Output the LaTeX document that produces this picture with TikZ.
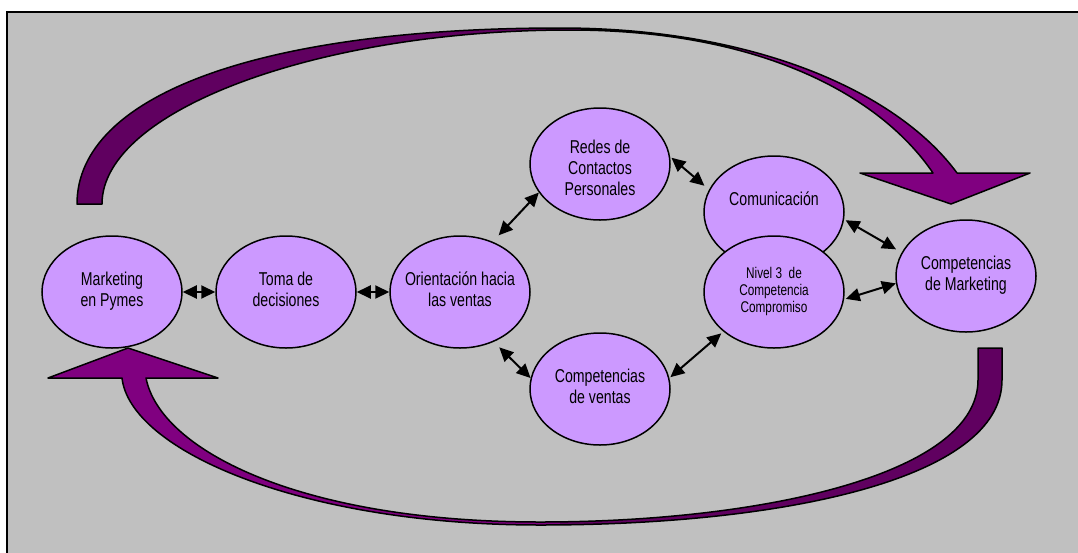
\documentclass[tikz,border=0pt]{standalone}
\usepackage{fontspec}
\newfontfamily\arialn{Liberation Sans}[FakeStretch=0.76]
\usetikzlibrary{arrows.meta,shapes.geometric}
\definecolor{bg}{HTML}{C0C0C0}
\definecolor{bubfill}{HTML}{CC99FF}
\definecolor{purp}{HTML}{800080}
\definecolor{dpurp}{HTML}{600060}
\newcommand\bubtext[1]{\makebox[0pt]{\begin{tabular}{@{}c@{}}#1\end{tabular}}}
\newcommand\toparrow{(77,204) .. controls (77,95) and (260,28) .. (560,28) .. controls (760,28) and (900,95) .. (957,173) -- (1030,173) -- (951,204) -- (860,173) -- (933,173) .. controls (880,95) and (760,30) .. (570,30) .. controls (320,30) and (102,110) .. (102,204) -- cycle}
\newcommand\botarrow{(48,378) -- (128,348) -- (218,378) -- (146,378) .. controls (160,450) and (300,522) .. (540,522) .. controls (760,522) and (978,475) .. (978,380) -- (978,348) -- (1002,348) -- (1002,380) .. controls (1002,480) and (780,525) .. (540,525) .. controls (300,525) and (130,450) .. (122,378) -- cycle}
\begin{document}
\begin{tikzpicture}[x=1pt,y=-1pt,
  bub/.style={ellipse, draw=black, line width=1.5pt, fill=bubfill, minimum width=140pt, minimum height=112pt, inner sep=0pt, font=\arialn\fontsize{18.6}{20.7}\selectfont},
  smalltext/.style={font=\arialn\fontsize{15.5}{17}\selectfont},
  dbl/.style={{Triangle[length=14pt,width=13pt]}-{Triangle[length=14pt,width=13pt]}, line width=2pt},
  ribbon/.style={draw=black, line width=1.5pt, line join=round}]
\useasboundingbox (0,0) rectangle (1078,552);
\clip (0,0) rectangle (1078,552);
\fill[bg] (7,12) rectangle (1090,560);
\draw[line width=2pt] (7,570) -- (7,12) -- (1090,12);
% top curved arrow
\fill[purp] \toparrow;
\begin{scope}
  \clip (0,0) rectangle (560,300);
  \fill[dpurp] \toparrow;
\end{scope}
\draw[ribbon] \toparrow;
% bottom curved arrow
\fill[purp] \botarrow;
\begin{scope}
  \clip (560,300) rectangle (1078,552);
  \fill[dpurp] \botarrow;
\end{scope}
\draw[ribbon] \botarrow;
% nodes
\node[bub] (mkt) at (112,292) {\bubtext{Marketing\\en Pymes}};
\node[bub] (toma) at (286,292) {\bubtext{Toma de\\decisiones}};
\node[bub] (ori) at (460,292) {\bubtext{Orientación hacia\\las ventas}};
\node[bub] (red) at (600,164) {\makebox[0pt]{\raisebox{-31pt}[0pt][0pt]{\begin{tabular}[b]{@{}c@{}}Redes de\\Contactos\\Personales\end{tabular}}}};
\node[bub] (cv) at (600,389) {\bubtext{Competencias\\de ventas}};
\node[bub] (com) at (774,212) {\makebox[0pt]{\raisebox{6.3pt}[0pt][0pt]{Comunicación}}};
\node[bub,smalltext] (niv) at (774,292) {\bubtext{Nivel 3\ \ de\\Competencia\\Compromiso}};
\node[bub] (cm) at (966,276) {\bubtext{Competencias\\de Marketing}};
% connectors
\draw[dbl] (mkt) -- (toma);
\draw[dbl] (toma) -- (ori);
\draw[dbl, shorten <=8.7pt] (ori.57) -- (red.205);
\draw[dbl, shorten <=7.8pt] (ori.304) -- (cv.171);
\draw[dbl, shorten <=1.7pt, shorten >=6pt] (red.6) -- (com.161);
\draw[dbl, shorten <=1.7pt, shorten >=6.4pt] (com.354) -- (cm.160);
\draw[dbl, shorten <=1.7pt] (niv.354) -- (cm.186);
\draw[dbl, shorten <=1.3pt, shorten >=2.7pt] (cv.9) -- (niv.218);
\end{tikzpicture}
\end{document}
